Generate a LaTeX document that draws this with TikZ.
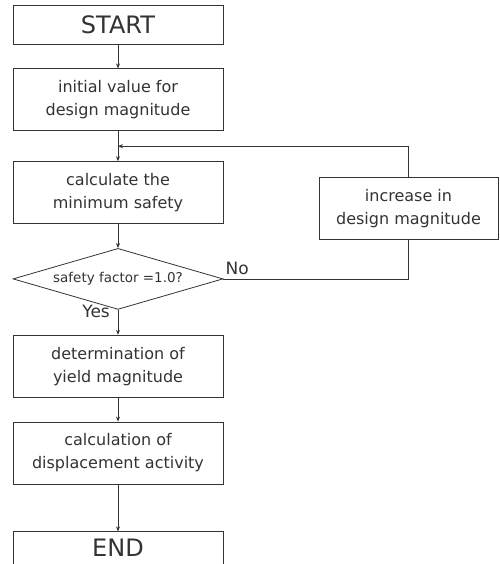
\documentclass[tikz,border=0pt]{standalone}
\usepackage{fontspec}
\setmainfont{DejaVu Sans}
\usetikzlibrary{positioning, shapes.geometric, arrows.meta}
\tikzset{
  stepbox/.style={draw=black!80, text=black!80, line width=0.8pt, minimum width=210pt, minimum height=62pt, align=center, font=\fontsize{16}{23}\selectfont},
  endbox/.style={stepbox, minimum height=39pt, font=\fontsize{24}{28}\selectfont},
  decision/.style={diamond, draw=black!80, text=black!80, line width=0.8pt, aspect=3.44, minimum width=210pt, minimum height=61pt, inner sep=1pt, font=\fontsize{13.5}{16}\selectfont},
  flow/.style={draw=black!80, line width=0.8pt, -{Stealth[length=5pt,width=4pt]}},
  line/.style={draw=black!80, line width=0.8pt},
  answer/.style={text=black!80, font=\fontsize{17}{20}\selectfont, inner sep=0pt},
}

\begin{document}
\begin{tikzpicture}
  \useasboundingbox (0,0) rectangle (499pt,-564pt);
  \node [endbox] (start) at (118pt,-24.5pt) {START};
  \node [stepbox, below=24pt of start] (init) {initial value for\\design magnitude};
  \node [stepbox, below=30pt of init] (calc) {calculate the\\minimum safety};
  \node [decision, below=24pt of calc] (check) {safety factor =1.0?};
  \node [stepbox, below=25pt of check] (yield) {determination of\\yield magnitude};
  \node [stepbox, below=24pt of yield] (disp) {calculation of\\displacement activity};
  \node [endbox, minimum height=42pt, text height=17.5pt, text depth=10pt, below=47pt of disp] (end) {END};
  % loop back on the right
  \node [stepbox, minimum width=179pt] (incr) at (408.5pt,-208.5pt) {increase in\\design magnitude};
  \coordinate [below=15pt of init] (join);

  \draw [flow] (start) -- (init);
  \draw [flow] (init) -- (calc);
  \draw [flow] (calc) -- (check);
  \draw [flow] (check) -- (yield);
  \draw [flow] (yield) -- (disp);
  \draw [flow] (disp) -- (end);
  \draw [line] (check.east) -| (incr.south);
  \draw [flow] (incr.north) |- (join);

  \node [answer, anchor=south west, xshift=2pt, yshift=4pt] (no) at (check.east) {No};
  \node [answer, anchor=north east, xshift=-8pt, yshift=5pt] (yes) at (check.south) {Yes};
\end{tikzpicture}
\end{document}
